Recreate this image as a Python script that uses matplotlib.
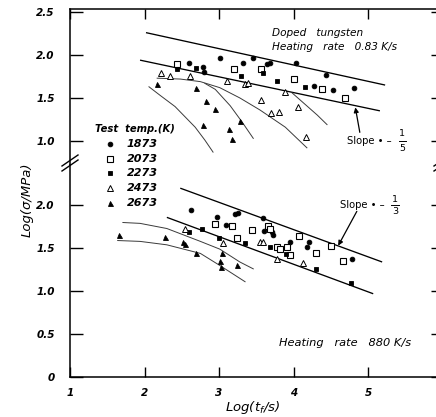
import matplotlib
matplotlib.use('Agg')
import matplotlib.pyplot as plt
from matplotlib.lines import Line2D

# ---------------- data: upper panel (heating rate 0.83 K/s) ----------------
up_1873_x = [2.60, 2.79, 2.80, 3.01, 3.32, 3.46, 3.64, 3.68, 4.03, 4.28, 4.44, 4.53, 4.81]
up_1873_y = [1.91, 1.86, 1.80, 1.97, 1.91, 1.97, 1.90, 1.91, 1.91, 1.64, 1.77, 1.59, 1.62]
up_2073_x = [2.44, 3.20, 3.56, 4.01, 4.38, 4.69]
up_2073_y = [1.90, 1.84, 1.84, 1.72, 1.60, 1.50]
up_2273_x = [2.44, 2.69, 3.30, 3.59, 3.78, 4.15]
up_2273_y = [1.84, 1.85, 1.76, 1.79, 1.70, 1.63]
up_2473_x = [2.22, 2.34, 2.61, 3.11, 3.35, 3.39, 3.56, 3.70, 3.81, 3.89, 4.06, 4.17]
up_2473_y = [1.79, 1.76, 1.76, 1.70, 1.66, 1.67, 1.48, 1.33, 1.34, 1.57, 1.40, 1.05]
up_2673_x = [2.17, 2.69, 2.83, 2.95, 2.79, 3.28, 3.13, 3.17]
up_2673_y = [1.66, 1.62, 1.47, 1.37, 1.19, 1.23, 1.14, 1.02]

up_fit_a_x = [2.02, 5.23]
up_fit_a_y = [2.26, 1.65]
up_fit_b_x = [1.94, 5.16]
up_fit_b_y = [1.94, 1.35]

up_curve_a_x = [2.17, 2.48, 2.75, 3.01, 3.28, 3.55, 3.89, 4.18]
up_curve_a_y = [1.73, 1.72, 1.69, 1.62, 1.50, 1.36, 1.16, 0.92]
up_curve_b_x = [2.81, 2.95, 3.15, 3.31, 3.46]
up_curve_b_y = [1.67, 1.60, 1.41, 1.22, 1.03]
up_curve_d_x = [2.06, 2.21, 2.41, 2.68, 2.81, 2.92]
up_curve_d_y = [1.63, 1.53, 1.40, 1.16, 1.01, 0.87]
up_curve_e_x = [3.98, 4.15, 4.32, 4.45]
up_curve_e_y = [1.56, 1.43, 1.30, 1.19]

# ---------------- data: lower panel (heating rate 880 K/s) ----------------
lo_1873_x = [2.62, 2.97, 3.21, 3.26, 3.59, 3.09, 3.60, 3.71, 3.72, 3.95, 4.21, 4.18, 4.79]
lo_1873_y = [1.94, 1.86, 1.90, 1.91, 1.85, 1.77, 1.70, 1.69, 1.66, 1.57, 1.57, 1.51, 1.37]
lo_2073_x = [2.95, 3.17, 3.44, 3.24, 3.66, 3.68, 3.78, 3.82, 3.91, 3.95, 4.07, 4.30, 4.50, 4.66]
lo_2073_y = [1.78, 1.76, 1.71, 1.62, 1.76, 1.72, 1.52, 1.49, 1.51, 1.42, 1.64, 1.45, 1.53, 1.35]
lo_2273_x = [2.77, 2.60, 3.00, 3.35, 3.68, 3.90, 4.30, 4.77]
lo_2273_y = [1.73, 1.69, 1.62, 1.56, 1.52, 1.43, 1.26, 1.09]
lo_2473_x = [2.54, 3.05, 3.55, 3.59, 3.78, 4.13]
lo_2473_y = [1.72, 1.56, 1.57, 1.57, 1.37, 1.33]
lo_2673_x = [1.66, 2.28, 2.52, 2.54, 2.69, 3.04, 3.01, 3.24, 3.03]
lo_2673_y = [1.66, 1.63, 1.57, 1.55, 1.45, 1.45, 1.35, 1.30, 1.28]

lo_fit_a_x = [2.48, 5.19]
lo_fit_a_y = [2.20, 1.34]
lo_fit_b_x = [2.30, 5.07]
lo_fit_b_y = [1.86, 0.97]

lo_curve_f_x = [1.71, 1.94, 2.30, 2.75, 3.01, 3.28, 3.46]
lo_curve_f_y = [1.80, 1.79, 1.73, 1.58, 1.49, 1.34, 1.26]
lo_curve_g_x = [1.64, 1.94, 2.30, 2.75, 3.01, 3.35]
lo_curve_g_y = [1.59, 1.58, 1.54, 1.44, 1.30, 1.11]

temps = ['1873', '2073', '2273', '2473', '2673']
x_ticks = [1, 2, 3, 4, 5]
x_ticklabels = ['1', '2', '3', '4', '5']
up_yticks = [1.0, 1.5, 2.0, 2.5]
up_yticklabels = ['1.0', '1.5', '2.0', '2.5']
lo_yticks = [0.0, 0.5, 1.0, 1.5, 2.0]
lo_yticklabels = ['0', '0.5', '1.0', '1.5', '2.0']

# ---------------- styles ----------------
plt.rcParams['font.family'] = ['DejaVu Sans']
W, H = 436, 417
fig = plt.figure(figsize=(W / 100, H / 100), dpi=100)

styles = {
    '1873': dict(marker='o', ms=3.4, mfc='black', mec='black', mew=0.6),
    '2073': dict(marker='s', ms=4.2, mfc='white', mec='black', mew=0.8),
    '2273': dict(marker='s', ms=3.4, mfc='black', mec='black', mew=0.6),
    '2473': dict(marker='^', ms=4.2, mfc='white', mec='black', mew=0.7),
    '2673': dict(marker='^', ms=3.6, mfc='black', mec='black', mew=0.6),
}

left = 70 / W
width = 5 * 74.5 / W
y_break = 165
y_bottom = 377
y_top = 9
ax_lo = fig.add_axes([left, 1 - y_bottom / H, width, (y_bottom - y_break) / H])
ax_up = fig.add_axes([left, 1 - y_break / H, width, (y_break - y_top) / H])

fit_kw = dict(color='black', lw=0.95, solid_capstyle='butt')
curve_kw = dict(color='#3a3a3a', lw=0.7)

for ax in (ax_lo, ax_up):
    ax.set_xlim(1, 6)
    ax.set_facecolor('none')
    for s in ax.spines.values():
        s.set_linewidth(1.1)
    ax.tick_params(direction='in', length=9, width=1.0, labelsize=7.5,
                   left=True, right=True, top=True, bottom=True,
                   labelleft=True, labelright=False, labeltop=False, labelbottom=False)
    ax.set_xticks(x_ticks)
    ax.tick_params(axis='y', pad=11)

ax_up.set_ylim(0.72, 2.535)
ax_lo.set_ylim(0.0, 2.47)
ax_up.spines['bottom'].set_visible(False)
ax_lo.spines['top'].set_visible(False)
ax_up.tick_params(axis='x', bottom=False, length=7)
ax_lo.tick_params(axis='x', top=False, labelbottom=True, length=7, pad=8)
ax_lo.set_xticklabels(x_ticklabels)
ax_up.set_yticks(up_yticks)
ax_up.set_yticklabels(up_yticklabels)
ax_lo.set_yticks(lo_yticks)
ax_lo.set_yticklabels(lo_yticklabels)
for ax in (ax_lo, ax_up):
    for lab in ax.get_xticklabels() + ax.get_yticklabels():
        lab.set_fontstyle('italic')
        lab.set_fontweight('bold')

# upper panel
ax_up.plot(up_fit_a_x, up_fit_a_y, **fit_kw)
ax_up.plot(up_fit_b_x, up_fit_b_y, **fit_kw)
for cx, cy in [(up_curve_a_x, up_curve_a_y), (up_curve_b_x, up_curve_b_y),
               (up_curve_d_x, up_curve_d_y), (up_curve_e_x, up_curve_e_y)]:
    ax_up.plot(cx, cy, **curve_kw)
for t, xs, ys in [('1873', up_1873_x, up_1873_y), ('2073', up_2073_x, up_2073_y),
                  ('2273', up_2273_x, up_2273_y), ('2473', up_2473_x, up_2473_y),
                  ('2673', up_2673_x, up_2673_y)]:
    ax_up.plot(xs, ys, ls='none', **styles[t])

# lower panel
ax_lo.plot(lo_fit_a_x, lo_fit_a_y, **fit_kw)
ax_lo.plot(lo_fit_b_x, lo_fit_b_y, **fit_kw)
for cx, cy in [(lo_curve_f_x, lo_curve_f_y), (lo_curve_g_x, lo_curve_g_y)]:
    ax_lo.plot(cx, cy, **curve_kw)
for t, xs, ys in [('1873', lo_1873_x, lo_1873_y), ('2073', lo_2073_x, lo_2073_y),
                  ('2273', lo_2273_x, lo_2273_y), ('2473', lo_2473_x, lo_2473_y),
                  ('2673', lo_2673_x, lo_2673_y)]:
    ax_lo.plot(xs, ys, ls='none', **styles[t])

# annotations
txt_kw = dict(fontstyle='italic', fontsize=7.6, color='black')
ax_up.text(3.71, 2.26, 'Doped   tungsten', va='center', ha='left', **txt_kw)
ax_up.text(3.71, 2.09, 'Heating   rate   0.83 K/s', va='center', ha='left', **txt_kw)
ax_lo.text(3.81, 0.40, 'Heating   rate   880 K/s', va='center', ha='left',
           fontstyle='italic', fontsize=8.2)

def slope_label(ax, x, y, denom, dy):
    ax.text(x, y, 'Slope \u2022 \u2013', va='center', ha='left', fontsize=7.2)
    ax.text(x + 0.74, y + dy, '1', va='center', ha='center', fontsize=6.8)
    ax.text(x + 0.74, y - dy, denom, va='center', ha='center', fontsize=6.8)
    ax.plot([x + 0.69, x + 0.79], [y, y], color='black', lw=0.7)

slope_label(ax_up, 4.72, 1.00, '5', 0.09)
ax_up.annotate('', xy=(4.83, 1.39), xytext=(4.89, 1.10),
               arrowprops=dict(arrowstyle='-|>', lw=0.9, color='black',
                               mutation_scale=7, shrinkA=0, shrinkB=0))
slope_label(ax_lo, 4.62, 2.00, '3', 0.07)
ax_lo.annotate('', xy=(4.60, 1.53), xytext=(4.85, 1.93),
               arrowprops=dict(arrowstyle='-|>', lw=0.9, color='black',
                               mutation_scale=7, shrinkA=0, shrinkB=0))

# axis labels
fig.text(27 / W, 1 - 200 / H, 'Log(\u03c3/MPa)', rotation=90, va='center', ha='center',
         fontstyle='italic', fontsize=9.5)
fig.text(253 / W, 1 - 407 / H, 'Log(t$_f$/s)', va='center', ha='center',
         fontstyle='italic', fontsize=9.5)

# legend (manual, figure coordinates)
fig.text(95 / W, 1 - 129 / H, 'Test  temp.(K)', va='center', ha='left',
         fontstyle='italic', fontweight='bold', fontsize=7.2)
for i, t in enumerate(temps):
    yy = 1 - (144 + 14.7 * i) / H
    fig.add_artist(Line2D([110 / W], [yy], transform=fig.transFigure, ls='none', **styles[t]))
    fig.text(127 / W, yy, t, va='center', ha='left', fontstyle='italic',
             fontweight='bold', fontsize=8)

# axis break marks
def break_mark(xc):
    for off in (0, 5):
        fig.add_artist(Line2D([(xc - 8) / W, (xc + 8) / W],
                              [1 - (171 - off) / H, 1 - (160 - off) / H],
                              transform=fig.transFigure, color='black', lw=1.0))
break_mark(70)
break_mark(442)

fig.savefig('out.png', dpi=100, facecolor='white')
